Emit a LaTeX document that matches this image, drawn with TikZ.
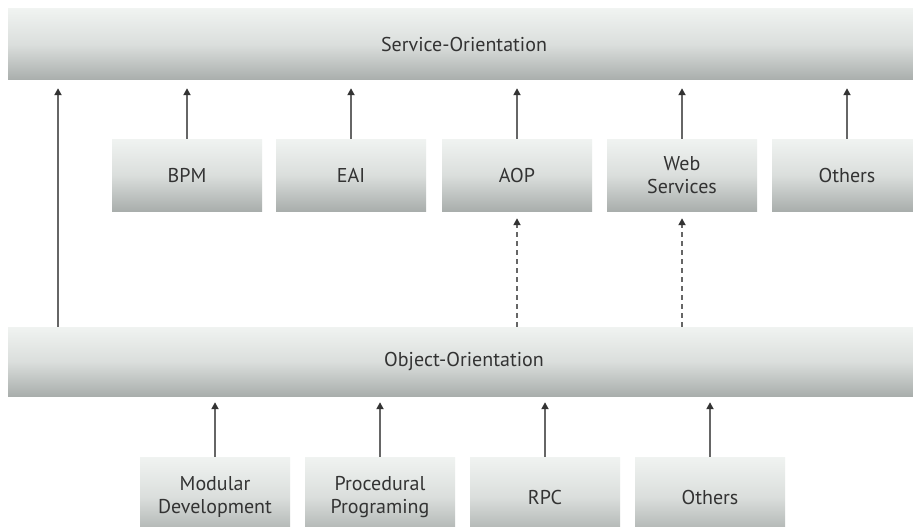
\documentclass[tikz,border=0pt]{standalone}
\usepackage{fontspec}
\setmainfont{PT Sans}
\usetikzlibrary{arrows.meta}
\definecolor{txt}{HTML}{333333}
\definecolor{boxtop}{HTML}{F0F3F1}
\definecolor{boxbot}{HTML}{A9AEAC}
\definecolor{arrc}{HTML}{666666}
\tikzset{
  gbox/.style={rectangle, inner sep=0pt, top color=boxtop, bottom color=boxbot, middle color=boxtop!70!boxbot,
    text=txt, font=\fontsize{20}{23}\selectfont, align=center},
  bar/.style={gbox, minimum width=912pt},
  ubox/.style={gbox, minimum width=150pt, minimum height=72pt},
  lbox/.style={gbox, minimum width=150pt, minimum height=80pt},
  arr/.style={draw=arrc, line width=1.8pt, -{Triangle[length=7pt,width=7pt,color=black!80]}},
  darr/.style={arr, dash pattern=on 5pt off 4pt}
}
\begin{document}
\begin{tikzpicture}[x=1pt,y=-1pt]
\useasboundingbox (0,0) rectangle (913,527);
\clip (0,0) rectangle (913,527);
\fill[white] (0,0) rectangle (913,527);
\node[bar, minimum height=71pt] (svc) at (464,44.5) {Service-Orientation};
\node[bar, minimum height=69pt] (obj) at (464,361.5) {Object-Orientation};
\node[ubox] (bpm) at (187,175) {BPM};
\node[ubox] (eai) at (351,175) {EAI};
\node[ubox] (aop) at (517,175) {AOP};
\node[ubox] (ws) at (682,175) {Web\\Services};
\node[ubox] (oth1) at (847,175) {Others};
\node[lbox] (mod) at (215,497) {Modular\\Development};
\node[lbox] (proc) at (380,497) {Procedural\\Programing};
\node[lbox] (rpc) at (545,497) {RPC};
\node[lbox] (oth2) at (710,497) {Others};
\coordinate (lx) at (58,0);
\draw[arr, shorten >=8pt] (obj.north -| lx) -- (svc.south -| lx);
\foreach \b in {bpm,eai,aop,ws,oth1}
  \draw[arr, shorten >=8pt] (\b.north) -- (svc.south -| \b.north);
\foreach \b in {aop,ws}
  \draw[darr, shorten >=7pt] (obj.north -| \b.south) -- (\b.south);
\foreach \b in {mod,proc,rpc,oth2}
  \draw[arr, shorten >=6pt] (\b.north) -- (obj.south -| \b.north);
\end{tikzpicture}
\end{document}
